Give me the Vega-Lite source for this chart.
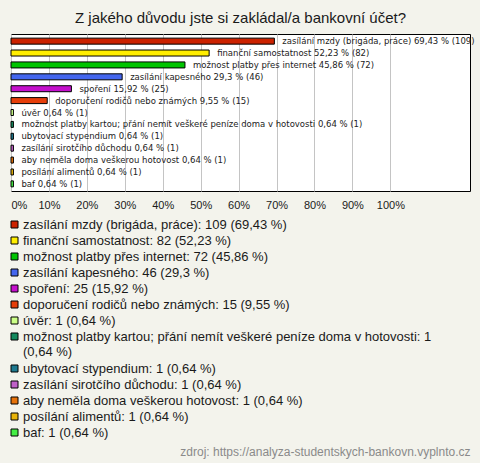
{
  "$schema": "https://vega.github.io/schema/vega-lite/v6.json",
  "width": 459,
  "height": 157,
  "autosize": {"type": "none"},
  "padding": {"left": 11, "top": 34, "right": 10, "bottom": 272},
  "background": "#f3f3ec",
  "title": {
    "text": "Z jakého důvodu jste si zakládal/a bankovní účet?",
    "font": "Liberation Sans",
    "fontSize": 15,
    "fontWeight": "normal",
    "color": "#1a1a1a",
    "anchor": "middle",
    "offset": 8
  },
  "data": {
    "values": [
      {"name": "zasílání mzdy (brigáda, práce)", "n": 109, "pct": 69.43, "barLabel": "zasílání mzdy (brigáda, práce) 69,43 % (109)", "legend": "zasílání mzdy (brigáda, práce): 109 (69,43 %)"},
      {"name": "finanční samostatnost", "n": 82, "pct": 52.23, "barLabel": "finanční samostatnost 52,23 % (82)", "legend": "finanční samostatnost: 82 (52,23 %)"},
      {"name": "možnost platby přes internet", "n": 72, "pct": 45.86, "barLabel": "možnost platby přes internet 45,86 % (72)", "legend": "možnost platby přes internet: 72 (45,86 %)"},
      {"name": "zasílání kapesného", "n": 46, "pct": 29.3, "barLabel": "zasílání kapesného 29,3 % (46)", "legend": "zasílání kapesného: 46 (29,3 %)"},
      {"name": "spoření", "n": 25, "pct": 15.92, "barLabel": "spoření 15,92 % (25)", "legend": "spoření: 25 (15,92 %)"},
      {"name": "doporučení rodičů nebo známých", "n": 15, "pct": 9.55, "barLabel": "doporučení rodičů nebo známých 9,55 % (15)", "legend": "doporučení rodičů nebo známých: 15 (9,55 %)"},
      {"name": "úvěr", "n": 1, "pct": 0.64, "barLabel": "úvěr 0,64 % (1)", "legend": "úvěr: 1 (0,64 %)"},
      {"name": "možnost platby kartou; přání nemít veškeré peníze doma v hotovosti", "n": 1, "pct": 0.64, "barLabel": "možnost platby kartou; přání nemít veškeré peníze doma v hotovosti 0,64 % (1)", "legend": "možnost platby kartou; přání nemít veškeré peníze doma v hotovosti: 1 (0,64 %)"},
      {"name": "ubytovací stypendium", "n": 1, "pct": 0.64, "barLabel": "ubytovací stypendium 0,64 % (1)", "legend": "ubytovací stypendium: 1 (0,64 %)"},
      {"name": "zasílání sirotčího důchodu", "n": 1, "pct": 0.64, "barLabel": "zasílání sirotčího důchodu 0,64 % (1)", "legend": "zasílání sirotčího důchodu: 1 (0,64 %)"},
      {"name": "aby neměla doma veškerou hotovost", "n": 1, "pct": 0.64, "barLabel": "aby neměla doma veškerou hotovost 0,64 % (1)", "legend": "aby neměla doma veškerou hotovost: 1 (0,64 %)"},
      {"name": "posílání alimentů", "n": 1, "pct": 0.64, "barLabel": "posílání alimentů 0,64 % (1)", "legend": "posílání alimentů: 1 (0,64 %)"},
      {"name": "baf", "n": 1, "pct": 0.64, "barLabel": "baf 0,64 % (1)", "legend": "baf: 1 (0,64 %)"}
    ]
  },
  "encoding": {
    "y": {
      "field": "name",
      "type": "nominal",
      "sort": null,
      "axis": null,
      "scale": {"paddingInner": 0.5, "paddingOuter": 0.35}
    },
    "x": {
      "field": "pct",
      "type": "quantitative",
      "scale": {"domain": [0, 121], "nice": false, "zero": true},
      "axis": {
        "values": [0, 10, 20, 30, 40, 50, 60, 70, 80, 90, 100],
        "labelExpr": "datum.value + '%'",
        "grid": true,
        "gridColor": "#c4c4c4",
        "gridWidth": 1,
        "domain": false,
        "ticks": false,
        "labelFont": "Liberation Sans",
        "labelFontSize": 11,
        "labelColor": "#1a1a1a",
        "labelPadding": 8,
        "labelFlush": true,
        "title": "zdroj: https://analyza-studentskych-bankovn.vyplnto.cz",
        "titleFont": "Liberation Sans",
        "titleFontSize": 12,
        "titleFontWeight": "normal",
        "titleColor": "#8a8a8a",
        "titleAnchor": "end",
        "titleAlign": "right",
        "titleBaseline": "middle",
        "titleY": 260
      }
    }
  },
  "layer": [
    {
      "mark": {"type": "bar", "size": 6, "stroke": "#000000", "strokeWidth": 1},
      "encoding": {
        "color": {
          "field": "legend",
          "type": "nominal",
          "sort": null,
          "scale": {
            "range": ["#cc2200", "#ffee00", "#00c400", "#4466ee", "#c410cc", "#e63e0a", "#ccff88", "#148a5e", "#1e7a90", "#c060c8", "#e6720a", "#e8b40a", "#44ee44"]
          },
          "legend": {
            "orient": "none",
            "legendX": -3,
            "legendY": 184,
            "title": null,
            "direction": "vertical",
            "symbolType": "square",
            "symbolSize": 49,
            "symbolStrokeColor": "#000000",
            "symbolStrokeWidth": 1,
            "symbolOpacity": 1,
            "labelFont": "Liberation Sans",
            "labelFontSize": 13,
            "labelColor": "#1a1a1a",
            "labelOffset": 2,
            "labelLimit": 480,
            "rowPadding": 2,
            "padding": 0,
            "labelExpr": "length(datum.label) > 70 ? [substring(datum.label, 0, lastindexof(datum.label, ' (')), substring(datum.label, lastindexof(datum.label, ' (') + 1)] : datum.label",
            "encode": {"labels": {"update": {"lineHeight": {"value": 15.6}}}}
          }
        }
      }
    },
    {
      "mark": {"type": "text", "align": "left", "baseline": "middle", "dx": 8, "font": "DejaVu Sans", "fontSize": 8.5, "color": "#222222"},
      "encoding": {"text": {"field": "barLabel"}}
    }
  ],
  "config": {
    "view": {"fill": "#ffffff", "stroke": "#000000", "strokeWidth": 1}
  }
}
